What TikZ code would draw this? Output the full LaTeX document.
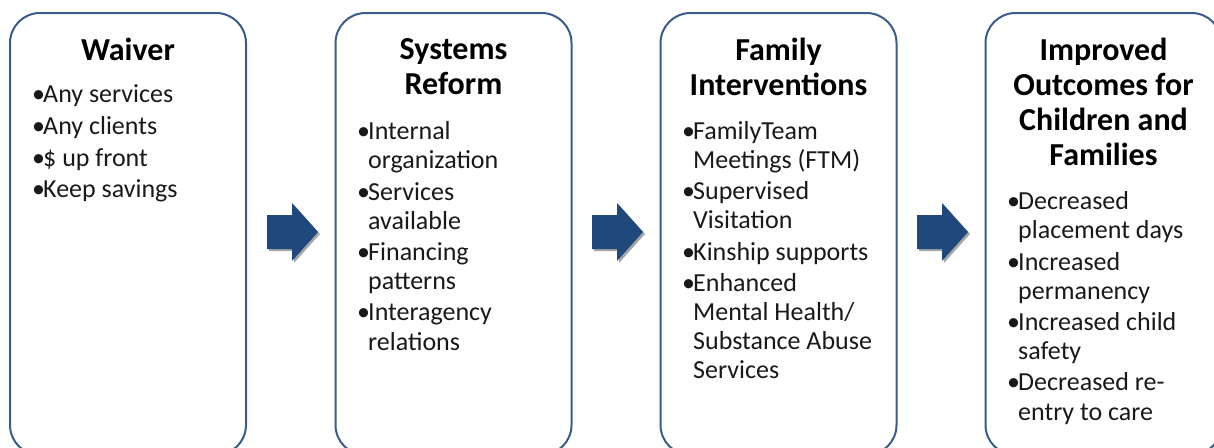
\documentclass[tikz,border=0pt]{standalone}
\usepackage{fontspec}
\setmainfont{Carlito}
\usetikzlibrary{shadows}
\definecolor{frameblue}{RGB}{56,93,138}
\definecolor{arrowblue}{RGB}{31,73,125}
\newcommand{\bul}{\makebox[11pt][l]{\textbullet}}
\newcommand{\cnt}{\hspace*{11pt}}

\tikzset{
	frame/.style={draw=frameblue, line width=2pt, rounded corners=30pt, fill=white,
		minimum width=236pt, minimum height=442pt, inner sep=0pt},
	title/.style={anchor=north, align=center, inner sep=0pt,
		font=\fontsize{32}{35}\selectfont\bfseries},
	body/.style={anchor=north west, align=left, inner sep=0pt, text=black!90,
		font=\fontsize{26}{29.2}\selectfont},
	blockarrow/.style={fill=arrowblue, draw=none,
		drop shadow={shadow xshift=2pt, shadow yshift=-2pt, opacity=0.35, fill=black}}
}

\begin{document}
\begin{tikzpicture}[x=1pt, y=-1pt]
		%%%%% START %%%%%
		\useasboundingbox (0,0) rectangle (1214,447);
		\clip (0,0) rectangle (1214,447);
		
		% frames
		\node[frame] (waiver box) at (128, 234) {};
		\node[frame] (reform box) at (453.5, 234) {};
		\node[frame] (family box) at (778.5, 234) {};
		\node[frame] (outcome box) at (1103.5, 234) {};
		
		% arrows between the frames
		\foreach \ax in {267, 592, 917}
			\fill[blockarrow] (\ax, 215) -- (\ax+25, 215) -- (\ax+25, 203) -- (\ax+51, 232)
				-- (\ax+25, 261) -- (\ax+25, 249) -- (\ax, 249) -- cycle;
		
		% Waiver
		\node[title] (waiver title) at (128, 38) {Waiver};
		\node[body] (waiver list) at (32, 84.5) {\bul Any services\\[2.6pt]
			\bul Any clients\\[2.6pt]
			\bul \$ up front\\[2.6pt]
			\bul Keep savings};
		
		% Systems Reform
		\node[title] (reform title) at (453.5, 38) {Systems\\Reform};
		\node[body] (reform list) at (357, 121.5) {\bul Internal\\
			\cnt organization\\[2pt]
			\bul Services\\
			\cnt available\\[2pt]
			\bul Financing\\
			\cnt patterns\\[2pt]
			\bul Interagency\\
			\cnt relations};
		
		% Family Interventions
		\node[title] (family title) at (778.5, 38) {Family\\Interventions};
		\node[body] (family list) at (682, 121) {\bul FamilyTeam\\
			\cnt Meetings (FTM)\\[2pt]
			\bul Supervised\\
			\cnt Visitation\\[2pt]
			\bul Kinship supports\\[2pt]
			\bul Enhanced\\
			\cnt Mental Health/\\
			\cnt Substance Abuse\\
			\cnt Services};
		
		% Improved Outcomes
		\node[title] (outcome title) at (1103.5, 38) {Improved\\Outcomes for\\Children and\\Families};
		\node[body] (outcome list) at (1007, 191.5) {\bul Decreased\\
			\cnt placement days\\[2pt]
			\bul Increased\\
			\cnt permanency\\[2pt]
			\bul Increased child\\
			\cnt safety\\[2pt]
			\bul Decreased re-\\
			\cnt entry to care};
		%%%%% END %%%%%
\end{tikzpicture}
\end{document}
